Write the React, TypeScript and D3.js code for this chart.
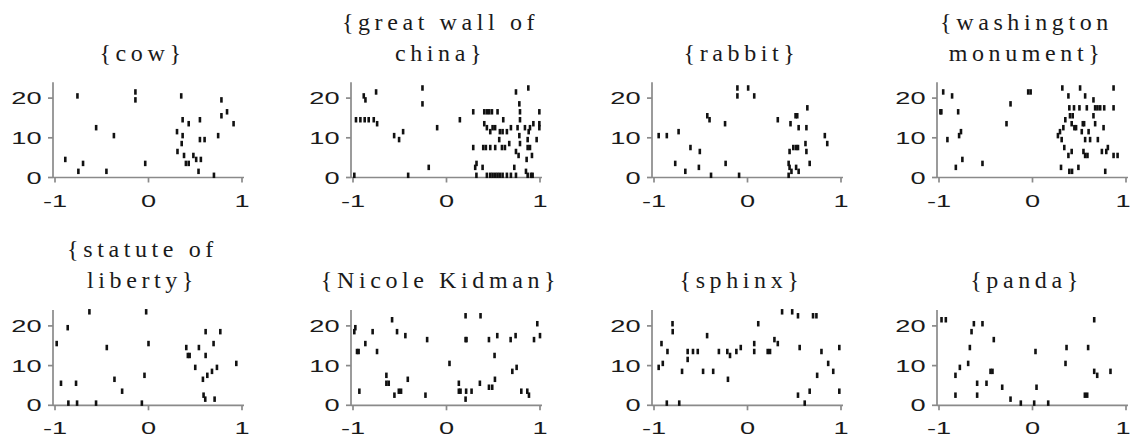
import React from 'react';
import * as d3 from 'd3';

// correlation (x) vs. trial index (y) raster, one panel per concept
const xTicks = [-1, 0, 1];
const yTicks = [0, 10, 20];

const cow: [number, number][] = [
  [-0.76, 20], [-0.14, 21], [-0.14, 19], [0.35, 20], [0.78, 19], [0.78, 15], [0.84, 16], [0.91, 13],
  [0.365, 14], [0.43, 13], [0.55, 14], [-0.56, 12], [-0.37, 10], [0.305, 11], [0.365, 10], [0.355, 8],
  [0.55, 9], [0.6, 9], [0.745, 10], [0.31, 6], [0.38, 5], [0.48, 5], [0.51, 4], [0.56, 4], [0.4, 3],
  [0.43, 3], [-0.89, 4], [-0.7, 3], [-0.035, 3], [-0.75, 1], [-0.45, 1], [0.535, 1], [0.7, 0],
];

const greatWall: [number, number][] = [
  [-0.885, 20], [-0.867, 19], [-0.753, 21], [-0.968, 14], [-0.921, 14], [-0.875, 14], [-0.832, 14],
  [-0.778, 14], [-0.742, 13], [-0.56, 10], [-0.507, 9], [-0.464, 11], [-0.257, 22], [-0.257, 18],
  [-0.1, 12], [-0.19, 2], [-0.41, 0], [-0.986, 0], [0.143, 14],
  [0.286, 16], [0.404, 16], [0.432, 16], [0.457, 16], [0.486, 16], [0.546, 16], [0.993, 16], [0.786, 16],
  [0.743, 21], [0.875, 22], [0.779, 18], [0.607, 14], [0.786, 14],
  [0.404, 13], [0.432, 12], [0.468, 11], [0.493, 12], [0.52, 12], [0.571, 11], [0.6, 11], [0.646, 11],
  [0.689, 12], [0.76, 12], [0.839, 12], [0.879, 11], [0.893, 12], [0.929, 13], [0.993, 13], [0.993, 12],
  [0.779, 10], [0.868, 9], [0.964, 9], [0.564, 9],
  [0.286, 7], [0.393, 7], [0.421, 7], [0.468, 7], [0.521, 7], [0.593, 7], [0.625, 7], [0.671, 8],
  [0.743, 6], [0.771, 5], [0.786, 8], [0.868, 7], [0.893, 7], [0.914, 5], [0.857, 4],
  [0.307, 2], [0.321, 3], [0.386, 2], [0.725, 2], [0.85, 1], [0.868, 0],
  [0.32, 0], [0.432, 0], [0.468, 0], [0.493, 0], [0.521, 0], [0.546, 0], [0.571, 0], [0.6, 0],
  [0.646, 0], [0.689, 0], [0.743, 0], [0.904, 0], [0.921, 0],
];

const rabbit: [number, number][] = [
  [-0.108, 22], [-0.108, 20], [0.007, 22], [0.072, 20], [-0.43, 15], [-0.406, 14], [-0.24, 13],
  [0.324, 14], [0.46, 13], [0.514, 15], [0.532, 15], [0.64, 17], [0.547, 12], [0.63, 12], [0.827, 10],
  [0.853, 8], [-0.95, 10], [-0.863, 10], [-0.737, 11], [-0.61, 7], [-0.51, 6], [-0.773, 3], [-0.665, 1],
  [-0.52, 2], [-0.39, 0], [-0.234, 3], [-0.09, 0], [0.49, 7], [0.52, 7], [0.54, 7], [0.45, 6], [0.62, 8],
  [0.63, 6], [0.665, 3], [0.44, 3], [0.45, 2], [0.47, 1], [0.44, 0], [0.52, 2], [0.547, 1],
];

const washington: [number, number][] = [
  [-0.955, 21], [-0.86, 20], [-0.985, 16], [-0.975, 16], [-0.795, 16], [-0.91, 9], [-0.785, 10],
  [-0.765, 11], [-0.75, 4], [-0.82, 2], [-0.535, 3], [-0.278, 13], [-0.235, 18], [-0.046, 21], [-0.02, 21],
  [0.319, 22], [0.509, 22], [0.867, 22], [0.384, 20], [0.563, 20], [0.652, 19],
  [0.394, 17], [0.444, 17], [0.502, 17], [0.581, 17], [0.67, 17], [0.695, 17], [0.724, 17], [0.767, 17], [0.867, 17],
  [0.401, 15], [0.43, 15], [0.351, 14], [0.652, 15],
  [0.419, 13], [0.448, 12], [0.466, 12], [0.538, 13], [0.552, 13], [0.527, 11], [0.6, 11], [0.67, 13],
  [0.76, 12], [0.33, 12], [0.294, 11], [0.272, 10],
  [0.312, 9], [0.563, 9], [0.616, 9], [0.699, 9],
  [0.34, 7], [0.419, 6], [0.384, 5], [0.545, 6], [0.563, 5], [0.588, 5], [0.742, 6], [0.789, 6],
  [0.806, 7], [0.867, 5], [0.91, 5],
  [0.305, 2], [0.394, 1], [0.423, 1], [0.491, 2], [0.778, 1],
];

const statue: [number, number][] = [
  [-0.982, 15], [-0.864, 19], [-0.632, 23], [-0.025, 23], [0.0, 15], [-0.446, 14], [-0.936, 5],
  [-0.775, 5], [-0.364, 6], [-0.282, 3], [-0.043, 7], [-0.857, 0], [-0.764, 0], [-0.561, 0], [-0.071, 0],
  [0.404, 14], [0.421, 12], [0.44, 12], [0.539, 14], [0.611, 18], [0.768, 18], [0.696, 15], [0.611, 12],
  [0.5, 9], [0.732, 9], [0.939, 10], [0.629, 7], [0.679, 8], [0.582, 6], [0.589, 2], [0.607, 1], [0.707, 1],
];

const nicole: [number, number][] = [
  [-0.975, 19], [-0.986, 18], [-0.957, 13], [-0.94, 13], [-0.868, 15], [-0.79, 18], [-0.743, 13],
  [-0.932, 3], [-0.643, 7], [-0.643, 5], [-0.618, 5], [-0.582, 21], [-0.529, 18], [-0.44, 17],
  [-0.557, 2], [-0.51, 3], [-0.486, 3], [-0.414, 6], [-0.225, 2], [-0.207, 16], [0.032, 10],
  [0.204, 22], [0.364, 22], [0.204, 16], [0.214, 16], [0.132, 5], [0.132, 3], [0.15, 3], [0.204, 1],
  [0.21, 3], [0.268, 3], [0.357, 5], [0.454, 16], [0.543, 17], [0.514, 12], [0.454, 4], [0.489, 4],
  [0.518, 6], [0.686, 16], [0.739, 17], [0.704, 8], [0.75, 9], [0.8, 3], [0.864, 3], [0.882, 2],
  [0.936, 16], [0.971, 20], [1.0, 17],
];

const sphinx: [number, number][] = [
  [-0.95, 9], [-0.906, 10], [-0.92, 15], [-0.856, 13], [-0.802, 20], [-0.8, 18], [-0.863, 0], [-0.73, 0],
  [-0.7, 8], [-0.64, 13], [-0.64, 11], [-0.583, 13], [-0.532, 13], [-0.475, 8], [-0.432, 17], [-0.367, 8],
  [-0.306, 13], [-0.216, 13], [-0.187, 12], [-0.209, 6], [-0.119, 13], [-0.072, 14], [0.072, 15],
  [0.072, 13], [0.115, 20], [0.216, 13], [0.241, 13], [0.288, 16], [0.324, 15], [0.37, 23], [0.478, 23],
  [0.54, 22], [0.558, 14], [0.54, 2], [0.612, 0], [0.665, 3], [0.701, 22], [0.737, 22], [0.745, 7],
  [0.791, 13], [0.863, 10], [0.917, 8], [0.982, 14], [0.982, 3],
];

const panda: [number, number][] = [
  [-0.973, 21], [-0.927, 21], [-0.652, 18], [-0.627, 20], [-0.535, 20], [-0.414, 16], [-0.67, 14],
  [-0.688, 10], [-0.777, 9], [-0.824, 7], [-0.824, 2], [-0.592, 5], [-0.592, 2], [-0.492, 5],
  [-0.449, 8], [-0.428, 8], [-0.324, 4], [-0.235, 1], [-0.125, 0], [0.018, 0], [0.168, 0], [0.032, 13],
  [0.043, 4], [0.364, 14], [0.353, 10], [0.56, 2], [0.585, 2], [0.595, 14], [0.66, 21], [0.66, 8],
  [0.692, 7], [0.834, 8],
];

const titles = [
  ['{cow}'],
  ['{great wall of', 'china}'],
  ['{rabbit}'],
  ['{washington', 'monument}'],
  ['{statute of', 'liberty}'],
  ['{Nicole Kidman}'],
  ['{sphinx}'],
  ['{panda}'],
];
const series = [cow, greatWall, rabbit, washington, statue, nicole, sphinx, panda];

const W = 1131;
const H = 441;
const colLeft = [55, 353, 654, 939];
const rowBase = [177.5, 405.3];
const plotW = 187;
const pxPerUnit = 3.97;
const axisColor = '#8a8a8a';
const textColor = '#1a1a1a';

function Panel({ title, marks, left, base }: { title: string[]; marks: [number, number][]; left: number; base: number }) {
  const x = d3.scaleLinear().domain([-1, 1]).range([left, left + plotW]);
  const y = d3.scaleLinear().domain([0, 24]).range([base, base - 24 * pxPerUnit]);
  const ax = x(-1) - 2;
  const tx = x(0) - 6;
  const lastBaseline = base - 117;

  return (
    <g>
      {title.map((t, i) => (
        <text key={i} x={tx} y={lastBaseline - (title.length - 1 - i) * 31}
          textAnchor="middle" fontFamily="'Liberation Serif', 'Times New Roman', serif"
          fontSize={24} letterSpacing={4.6} fill={textColor}>{t}</text>
      ))}
      {/* axes */}
      <line x1={ax} x2={ax} y1={y(24)} y2={y(0)} stroke={axisColor} strokeWidth={1.7} />
      <line x1={ax} x2={x(1) + 2} y1={y(0)} y2={y(0)} stroke={axisColor} strokeWidth={1.7} />
      {yTicks.map(v => (
        <g key={'y' + v}>
          <line x1={ax - 5} x2={ax} y1={y(v)} y2={y(v)} stroke={axisColor} strokeWidth={1.7} />
          <text transform={`translate(${ax - 11.5},${y(v) + 6}) scale(1.6,1)`} textAnchor="end"
            fontFamily="'Liberation Sans', Arial, sans-serif" fontSize={17} fill={textColor}>{v}</text>
        </g>
      ))}
      {xTicks.map(v => (
        <g key={'x' + v}>
          <line x1={x(v)} x2={x(v)} y1={y(0)} y2={y(0) + 5} stroke={axisColor} strokeWidth={1.7} />
          <text transform={`translate(${Math.min(x(v), W - 8)},${y(0) + 29}) scale(1.6,1)`} textAnchor="middle"
            fontFamily="'Liberation Sans', Arial, sans-serif" fontSize={17} fill={textColor}>{v}</text>
        </g>
      ))}
      {marks.map((d, i) => (
        <rect key={i} x={x(d[0]) - 1.3} y={y(d[1] + 0.55) - 2.75} width={2.6} height={5.5} fill="#111" />
      ))}
    </g>
  );
}

export default function App() {
  return (
    <svg width={W} height={H} style={{ position: 'absolute', left: 0, top: 0, background: '#fff' }}>
      <rect width={W} height={H} fill="#fff" />
      {series.map((marks, i) => (
        <Panel key={i} title={titles[i]} marks={marks}
          left={colLeft[i % 4]} base={rowBase[Math.floor(i / 4)]} />
      ))}
    </svg>
  );
}
